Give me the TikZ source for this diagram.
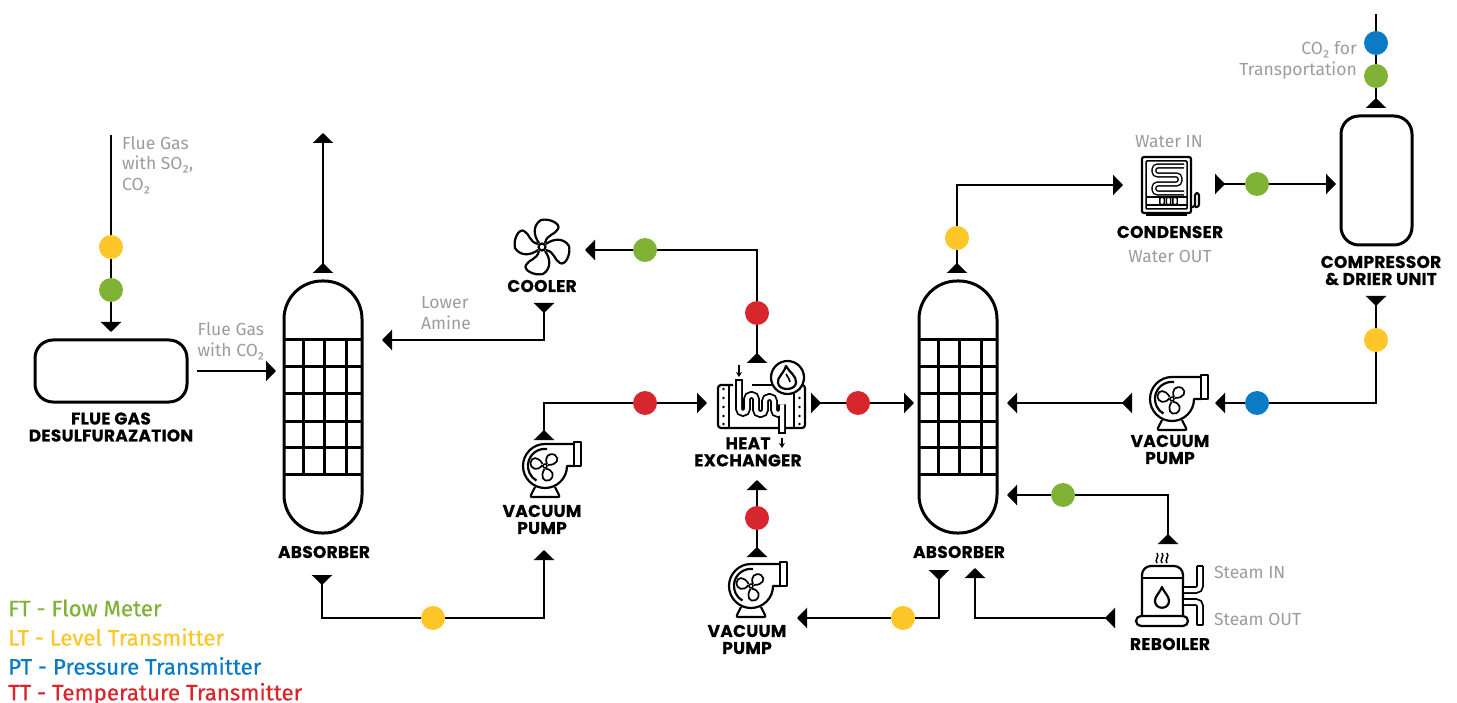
\documentclass[tikz,border=0pt]{standalone}
\usepackage{fontspec}
\setmainfont{Fira Sans}
\newfontfamily\headfont{Poppins}[BoldFeatures={FakeBold=0.5,LetterSpace=1.5}]
\newfontfamily\legendfont{Fira Sans}[FakeBold=0.5]
\usetikzlibrary{arrows.meta, positioning, calc}
\definecolor{ftgreen}{HTML}{80B236}
\definecolor{ltyellow}{HTML}{FFC629}
\definecolor{ptblue}{HTML}{0A7BC4}
\definecolor{ttred}{HTML}{D8262F}
\definecolor{notegray}{HTML}{9C9C9C}
\tikzset{
    vessel/.style={draw=black, line width=3pt, inner sep=0pt, outer sep=0pt},
    unitlabel/.style={font=\headfont\bfseries\fontsize{17}{17}\selectfont, align=center, text=black, inner sep=0pt},
    notelabel/.style={font=\fontsize{17.5}{20.5}\selectfont, text=notegray, inner sep=0pt},
    legendlabel/.style={font=\legendfont\fontsize{22.3}{24}\selectfont, anchor=west, inner sep=0pt},
    bullet/.style={circle, minimum size=24pt, inner sep=0pt, outer sep=0pt},
    ftbullet/.style={bullet, fill=ftgreen},
    ltbullet/.style={bullet, fill=ltyellow},
    ptbullet/.style={bullet, fill=ptblue},
    ttbullet/.style={bullet, fill=ttred},
    pipe/.style={line width=2.4pt, {Triangle[reversed,length=10pt,width=20pt]}-{Triangle[length=10pt,width=20pt]}},
    feedpipe/.style={line width=2.4pt, -{Triangle[length=10pt,width=20pt]}},
    ventpipe/.style={line width=2.4pt, {Triangle[reversed,length=10pt,width=20pt]}-},
    icon/.style={line width=2.2pt, line join=round},
    tube/.style={line width=1.8pt, double=white, double distance=4pt, rounded corners=4pt},
    pics/absgrid/.style={code={
        \foreach \yy in {-67,-40,-14,14,40,67} \draw[line width=3pt] (-39,\yy) -- (39,\yy);
        \foreach \xx in {-20,1,23} \draw[line width=3pt] (\xx,-67) -- (\xx,67);
    }},
    pics/pumpicon/.style={code={
        \draw[icon, fill=white] (29,-24) rectangle (36,0);
        \draw[icon] (29,-22) -- (0,-22) arc[start angle=-90, end angle=-360, radius=22] -- (29,0);
        \draw[icon] (2,-17) arc[start angle=-83, end angle=-240, radius=17];
        \foreach \aa in {0,120,240}
            \draw[line width=1.7pt, rotate=\aa] (2,-2) .. controls (-1,-9) and (4,-14) .. (10,-11) .. controls (15,-7) and (12,-1) .. (3,-1);
        \draw[line width=1.5pt] (0,0) circle (2);
        \draw[icon, rounded corners=2pt] (-10,21) -- (-15,31) -- (15,31) -- (10,21);
    }},
    pics/fanicon/.style={code={
        \foreach \aa in {0,90,180,270}
            \draw[icon, rotate=\aa] (-3,-4) .. controls (-9,-12) and (-9,-22) .. (-1,-27) .. controls (8,-29) and (19,-23) .. (16,-18) .. controls (13,-12) and (5,-13) .. (3,-4);
        \draw[icon, fill=white] (0,0) circle (3.5);
    }}
}
\begin{document}
\begin{tikzpicture}[x=1pt, y=-1pt]
    \useasboundingbox (0,0) rectangle (1457,703);

    % Vessels
    \node[vessel, minimum width=152pt, minimum height=62pt, rounded corners=18pt] (fgd) at (111,371) {};
    \node[vessel, minimum width=78pt, minimum height=252pt, rounded corners=38pt] (absorberA) at (323,407) {};
    \node[vessel, minimum width=78pt, minimum height=252pt, rounded corners=38pt] (absorberB) at (958,407) {};
    \node[vessel, minimum width=71pt, minimum height=129pt, rounded corners=18pt] (compressor) at (1376.5,180.5) {};
    \pic at (absorberA.center) {absgrid};
    \pic at (absorberB.center) {absgrid};

    % Ports
    \coordinate (flueIn) at (111,135);
    \coordinate (fgdIn) at (111,332);
    \coordinate (fgdOut) at (197,371);
    \coordinate (absAfeed) at (276,371);
    \coordinate (absAtop) at (323,273);
    \coordinate (absAvent) at (323,133);
    \coordinate (absAbot) at (322,575);
    \coordinate (absAlean) at (382,340);
    \coordinate (pumpAin) at (544,550);
    \coordinate (pumpAout) at (544,440);
    \coordinate (hxIn) at (707,403);
    \coordinate (hxTop) at (757,363);
    \coordinate (coolerIn) at (585,250);
    \coordinate (coolerOut) at (544,303);
    \coordinate (hxOut) at (811,403);
    \coordinate (absBfeed) at (914,403);
    \coordinate (pumpCout) at (757,557);
    \coordinate (hxBot) at (757,480);
    \coordinate (absBbot) at (939,570);
    \coordinate (pumpCin) at (797,618);
    \coordinate (reboilerOut) at (1115,618);
    \coordinate (absBret) at (975,568);
    \coordinate (reboilerTop) at (1168,544);
    \coordinate (absBvap) at (1007,495);
    \coordinate (pumpBout) at (1132,403);
    \coordinate (absBlean) at (1007,403);
    \coordinate (compBot) at (1376,296);
    \coordinate (pumpBin) at (1215,403);
    \coordinate (absBtop) at (957,273);
    \coordinate (condIn) at (1123,185);
    \coordinate (condOut) at (1215,184);
    \coordinate (compIn) at (1336,184);
    \coordinate (compTop) at (1376,108);
    \coordinate (co2Out) at (1376,14);

    % Pipes
    \draw[feedpipe] (flueIn) -- (fgdIn);
    \draw[feedpipe] (fgdOut) -- (absAfeed);
    \draw[pipe] (absAtop) -- (absAvent);
    \draw[pipe] (absAbot) -- ++(0,43) -| (pumpAin);
    \draw[pipe] (pumpAout) |- (hxIn);
    \draw[pipe] (hxTop) |- (coolerIn);
    \draw[pipe] (coolerOut) |- (absAlean);
    \draw[pipe] (hxOut) -- (absBfeed);
    \draw[pipe] (pumpCout) -- (hxBot);
    \draw[pipe] (absBbot) |- (pumpCin);
    \draw[pipe] (reboilerOut) -| (absBret);
    \draw[pipe] (reboilerTop) |- (absBvap);
    \draw[pipe] (pumpBout) -- (absBlean);
    \draw[pipe] (compBot) |- (pumpBin);
    \draw[pipe] (absBtop) |- (condIn);
    \draw[pipe] (condOut) -- (compIn);
    \draw[ventpipe] (compTop) -- (co2Out);

    % Transmitters
    \node[ltbullet] (lt1) at (111,247) {};
    \node[ftbullet] (ft1) at (111,290) {};
    \node[ltbullet] (lt2) at (433,618) {};
    \node[ttbullet] (tt1) at (645,403) {};
    \node[ftbullet] (ft2) at (645,250) {};
    \node[ttbullet] (tt2) at (757,313) {};
    \node[ttbullet] (tt3) at (858,403) {};
    \node[ttbullet] (tt4) at (757,518) {};
    \node[ltbullet] (lt3) at (903,618) {};
    \node[ftbullet] (ft3) at (1063,495) {};
    \node[ptbullet] (pt1) at (1257,403) {};
    \node[ltbullet] (lt4) at (1376,340) {};
    \node[ltbullet] (lt5) at (957,238) {};
    \node[ftbullet] (ft4) at (1257,184) {};
    \node[ptbullet] (pt2) at (1376,43) {};
    \node[ftbullet] (ft5) at (1376,76) {};

    % Icons
    \pic at (542,247) {fanicon};
    \pic at (545,466) {pumpicon};
    \pic at (751,586) {pumpicon};
    \pic at (1172,399) {pumpicon};

    % Heat exchanger
    \draw[icon, rounded corners=3pt] (733,385) -- (718,385) -- (718,428) -- (805,428) -- (805,385) -- (775,385);
    \draw[icon] (752,385) -- (772,385);
    \draw[icon] (729,385) -- (729,428);
    \draw[icon] (794,392) -- (794,428);
    \foreach \yy in {389,398,407,416,424} {
        \fill (723.5,\yy) circle (1.3);
        \fill (799.5,\yy) circle (1.3);
    }
    \draw[tube] (739,380) -- (739,413) -- (747,413) -- (747,395) -- (756,395) -- (756,414) -- (765,414) -- (765,397) -- (774,397) -- (774,414) -- (782,414) -- (782,402) -- (782,433);
    \draw[icon] (735,380) -- (743,380);
    \draw[icon] (778,433) -- (786,433);
    \draw[icon, fill=white] (787.5,377.5) circle (16.5);
    \draw[icon] (786,366) .. controls (789,372) and (797,376) .. (796,383) .. controls (795,391) and (779,391) .. (778,383) .. controls (777,377) and (783,375) .. cycle;
    \draw[line width=1.6pt] (786,374) .. controls (788,378) and (790,379) .. (790,382);
    \draw[line width=1.6pt, -{Stealth[length=5pt,width=6pt]}] (739,365) -- (739,377);
    \draw[line width=1.6pt, -{Stealth[length=5pt,width=6pt]}] (782,438) -- (782,448);

    % Condenser
    \draw[icon, rounded corners=2pt] (1142,157) rectangle (1191,213);
    \draw[line width=1.5pt, rounded corners=1pt] (1146,161) rectangle (1187,209);
    \draw[line width=1.4pt, double=white, double distance=2.4pt, rounded corners=3.5pt] (1184,166) -- (1154,166) -- (1154,175) -- (1180,175) -- (1180,184) -- (1154,184) -- (1154,193) -- (1184,193);
    \draw[line width=1.5pt] (1146,197) -- (1187,197) (1146,205) -- (1187,205);
    \foreach \xx in {1162,1168.5,1175}
        \draw[line width=1.4pt, fill=white, rounded corners=1pt] (\xx-2.2,197.5) rectangle (\xx+2.2,204.5);
    \draw[icon, rounded corners=2.5pt] (1192,207) -- (1195,207) -- (1195,193) -- (1199,193) -- (1199,207) -- (1195,207);
    \draw[icon] (1146,215) -- (1187,215);

    % Reboiler
    \draw[icon, rounded corners=9pt] (1142,618) -- (1142,566) -- (1183,566) -- (1183,618);
    \draw[icon] (1142,578) -- (1183,578);
    \draw[icon, fill=white, rounded corners=5pt] (1136,616) rectangle (1188,626);
    \draw[icon] (1162,587) .. controls (1165,594) and (1169,596) .. (1169,601) .. controls (1169,610) and (1155,610) .. (1155,601) .. controls (1155,596) and (1159,594) .. cycle;
    \foreach \xx in {1157,1162,1167}
        \draw[line width=1.5pt] (\xx,553) .. controls (\xx+3,556) and (\xx-3,560) .. (\xx,563);
    \draw[tube] (1184,590) -- (1200,590) -- (1200,566);
    \draw[tube] (1184,602) -- (1200,602) -- (1200,625);
    \draw[icon] (1197,566) -- (1203,566) (1197,625) -- (1203,625);

    % Unit labels
    \node[unitlabel] (fgdLabel) at (111,427) {FLUE GAS\\DESULFURAZATION};
    \node[unitlabel] (absALabel) at (324,552) {ABSORBER};
    \node[unitlabel] (absBLabel) at (959,552) {ABSORBER};
    \node[unitlabel] (coolerLabel) at (542,286) {COOLER};
    \node[unitlabel] (hxLabel) at (748,452) {HEAT\\EXCHANGER};
    \node[unitlabel] (pumpALabel) at (542,519.5) {VACUUM\\PUMP};
    \node[unitlabel] (pumpCLabel) at (747,639.5) {VACUUM\\PUMP};
    \node[unitlabel] (pumpBLabel) at (1170,449.5) {VACUUM\\PUMP};
    \node[unitlabel] (condLabel) at (1170,232) {CONDENSER};
    \node[unitlabel] (compLabel) at (1381,270.5) {COMPRESSOR\\\& DRIER UNIT};
    \node[unitlabel] (reboilerLabel) at (1170,644) {REBOILER};

    % Stream notes
    \node[notelabel, align=left, anchor=north west] (flueNote) at (122,136) {Flue Gas\\with SO₂,\\CO₂};
    \node[notelabel, align=left] (feedNote) at (231,341) {Flue Gas\\with CO₂};
    \node[notelabel, align=left, anchor=west] (amineNote) at (421,313) {Lower\\Amine};
    \node[notelabel] (waterInNote) at (1169,142) {Water IN};
    \node[notelabel] (waterOutNote) at (1170,256) {Water OUT};
    \node[notelabel, align=right, anchor=east] (co2Note) at (1357,60.5) {CO₂ for\\Transportation};
    \node[notelabel, anchor=west] (steamInNote) at (1214,572) {Steam IN};
    \node[notelabel, anchor=west] (steamOutNote) at (1214,619) {Steam OUT};

    % Legend
    \node[legendlabel, text=ftgreen] (ftLegend) at (8,608) {FT - Flow Meter};
    \node[legendlabel, text=ltyellow] (ltLegend) at (8,637) {LT - Level Transmitter};
    \node[legendlabel, text=ptblue] (ptLegend) at (8,666) {PT - Pressure Transmitter};
    \node[legendlabel, text=ttred] (ttLegend) at (8,694) {TT - Temperature Transmitter};
\end{tikzpicture}
\end{document}
